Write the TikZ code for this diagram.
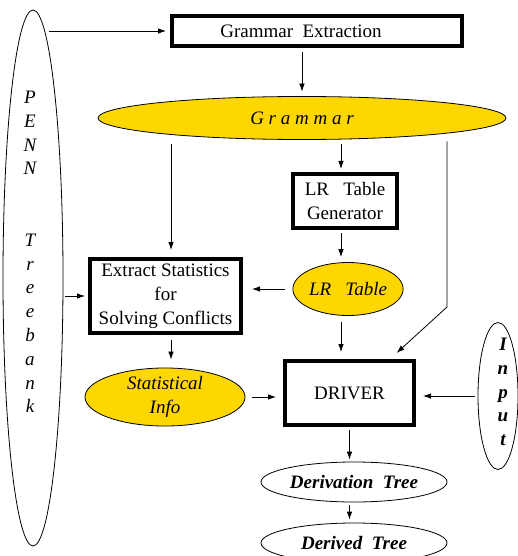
\documentclass[tikz,border=0pt]{standalone}
\usepackage{fontspec}
\setmainfont{Liberation Serif}
\usepackage{xcolor}
\usetikzlibrary{shapes.geometric,arrows.meta}
\definecolor{ovalgold}{RGB}{255,215,0}
\newcommand\diagfont{\fontsize{19}{23.8}\selectfont}

\begin{document}
\begin{tikzpicture}[x=1pt,y=-1pt,font=\diagfont,
  thickbox/.style={draw,line width=4pt,inner sep=0pt,align=center},
  goldoval/.style={ellipse,draw,line width=0.8pt,fill=ovalgold,inner sep=0pt,align=center,font=\diagfont\itshape},
  plainoval/.style={ellipse,draw,line width=0.8pt,inner sep=0pt,align=center},
  arr/.style={-{Latex[length=8pt,width=5.5pt]},line width=0.8pt}]
\useasboundingbox (0,0) rectangle (518,556);

% treebank and input
\node[plainoval,minimum width=60pt,minimum height=536pt] (penn) at (33,278) {};
\node[font=\diagfont\itshape,align=center] (penntext) at (30,252) {P\\E\\N\\N\\[47.6pt]T\\r\\e\\e\\b\\a\\n\\k};
\node[plainoval,minimum width=40pt,minimum height=147pt] (input) at (498,396) {};
\node[font=\diagfont\bfseries\itshape,align=center] (inputtext) at (503,392) {I\\n\\p\\u\\t};

% boxes and ovals
\node[thickbox,minimum width=290pt,minimum height=30pt] (grammarext) at (317,31) {Grammar~~Extraction\hspace{32pt}};
\node[goldoval,minimum width=408pt,minimum height=43pt] (grammar) at (302,118) {G r a m m a r};
\node[thickbox,minimum width=104pt,minimum height=54pt] (lrgen) at (345,201) {LR~~~Table\\Generator};
\node[goldoval,minimum width=110pt,minimum height=53pt] (lrtable) at (348,289) {LR~~~Table};
\node[thickbox,minimum width=151pt,minimum height=74pt] (extract) at (165.5,296) {Extract Statistics\\for\\Solving Conflicts};
\node[goldoval,minimum width=160pt,minimum height=57pt] (stat) at (165,397) {Statistical\\Info};
\node[thickbox,minimum width=129pt,minimum height=64pt] (driver) at (349.5,393) {DRIVER};
\node[plainoval,minimum width=186pt,minimum height=40pt,font=\diagfont\bfseries\itshape] (derivation) at (354,482) {Derivation~~Tree};
\node[plainoval,minimum width=186pt,minimum height=40pt,font=\diagfont\bfseries\itshape] (derived) at (354,543) {Derived~~Tree};

\coordinate (statcol) at (171,0);
\coordinate (lrcol) at (341,0);
\coordinate (bend) at (447,307);

% connectors
\draw[arr,shorten <=3.3pt,shorten >=4pt] (grammarext.west -| penn.87) -- (grammarext.west);
\draw[arr,shorten <=4pt,shorten >=4.5pt] (grammarext.south -| grammar.north) -- (grammar.north);
\draw[arr,shorten <=4.5pt,shorten >=7pt] (grammar.south -| statcol) -- (extract.north -| statcol);
\draw[arr,shorten <=4.5pt,shorten >=3pt] (grammar.south -| lrcol) -- (lrgen.north -| lrcol);
\draw[arr,shorten <=3pt,shorten >=5pt] (lrgen.south -| lrcol) -- (lrtable.north -| lrcol);
\draw[arr,shorten <=7.5pt,shorten >=9pt] (lrtable.west) -- (lrtable.west -| extract.east);
\draw[arr,shorten <=1.5pt,shorten >=3pt] (penn.east |- extract.west) -- (extract.west);
\draw[arr,shorten <=5pt,shorten >=8pt] (extract.south -| statcol) -- (stat.north -| statcol);
\draw[arr,shorten <=6.5pt,shorten >=7pt] (stat.east) -- (stat.east -| driver.west);
\draw[arr,shorten <=6.5pt,shorten >=7pt] (lrtable.south -| lrcol) -- (driver.north -| lrcol);
\draw[arr,shorten <=1.5pt,shorten >=9pt] (grammar.south -| bend) -- (bend) -- ([xshift=-26pt]driver.north east);
\draw[arr,shorten <=2.5pt,shorten >=7pt] (input.west) -- (input.west -| driver.east);
\draw[arr,shorten <=3pt,shorten >=2pt] (driver.south) -- (driver.south |- derivation.north);
\draw[arr,shorten <=3pt,shorten >=3pt] (derivation.south -| driver.south) -- (driver.south |- derived.north);
\end{tikzpicture}
\end{document}
